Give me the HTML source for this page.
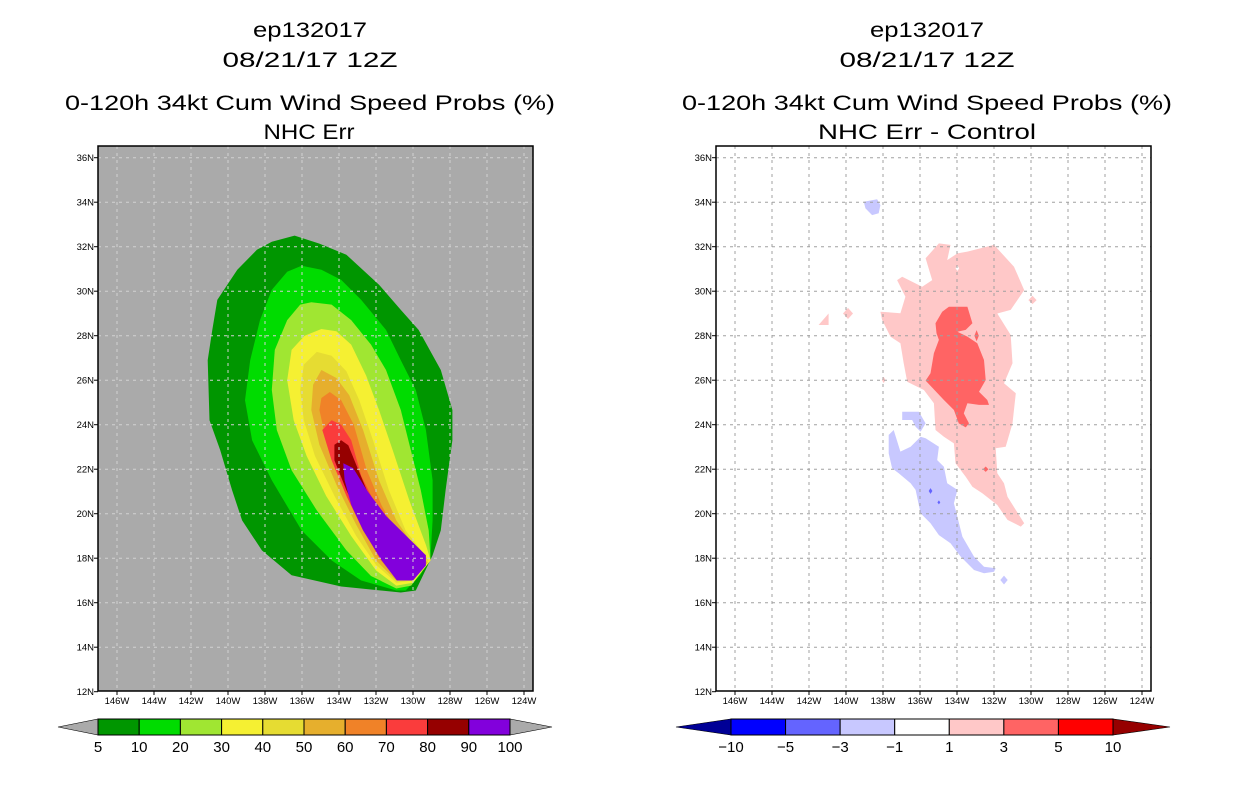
<!DOCTYPE html>
<html><head><meta charset="utf-8"><style>
html,body{margin:0;padding:0;background:#fff}
svg{display:block}
text{font-family:"Liberation Sans",sans-serif}
</style></head><body>
<svg id="root" width="1236" height="800" viewBox="0 0 1236 800">
<g>
<text x="310" y="37" font-size="21" text-anchor="middle" textLength="114" lengthAdjust="spacingAndGlyphs">ep132017</text>
<text x="310" y="67" font-size="21" text-anchor="middle" textLength="175" lengthAdjust="spacingAndGlyphs">08/21/17 12Z</text>
<text x="310" y="110" font-size="21" text-anchor="middle" textLength="490" lengthAdjust="spacingAndGlyphs">0-120h 34kt Cum Wind Speed Probs (%)</text>
<text x="309" y="139" font-size="21" text-anchor="middle" textLength="91" lengthAdjust="spacingAndGlyphs">NHC Err</text>
</g>
<g>
<text x="927" y="37" font-size="21" text-anchor="middle" textLength="114" lengthAdjust="spacingAndGlyphs">ep132017</text>
<text x="927" y="67" font-size="21" text-anchor="middle" textLength="175" lengthAdjust="spacingAndGlyphs">08/21/17 12Z</text>
<text x="927" y="110" font-size="21" text-anchor="middle" textLength="490" lengthAdjust="spacingAndGlyphs">0-120h 34kt Cum Wind Speed Probs (%)</text>
<text x="927" y="139" font-size="21" text-anchor="middle" textLength="218" lengthAdjust="spacingAndGlyphs">NHC Err - Control</text>
</g>
<g id="leftPanel"></g>
<g id="rightPanel"></g>
<g id="leftBar"></g>
<g id="rightBar"></g>
</svg>
<script>
// ---- data (lon in degrees W, lat in degrees N) ----
const latTicks=[12,14,16,18,20,22,24,26,28,30,32,34,36];
const lonTicks=[146,144,142,140,138,136,134,132,130,128,126,124];
const leftLevels=[5,10,20,30,40,50,60,70,80,90,100];
const leftColors=["#009600","#00dc00","#a0e632","#f5f032","#e6dc32","#e6af2d","#f08228","#fa3c3c","#960000","#8200dc"];
const c5=[[136.4,32.5],[135.06,32.14],[133.6,31.64],[131.84,30.29],[130.66,29.16],[129.7,28.26],[128.5,26.46],[127.87,24.66],[127.87,23.31],[128.24,21.05],[128.5,19.25],[128.94,18.13],[129.85,16.55],[130.66,16.46],[133.88,16.73],[136.56,17.23],[138.17,18.35],[139.24,19.7],[139.78,21.05],[140.42,22.86],[141.0,24.2],[141.1,26.9],[140.85,28.26],[140.58,29.61],[139.5,30.96],[138.44,31.86],[137.63,32.22]];
const c10=[[136.02,31.14],[134.95,30.96],[133.88,30.51],[132.8,29.61],[131.46,28.26],[130.66,26.9],[129.85,25.56],[129.3,23.76],[128.94,21.5],[128.94,19.7],[129.05,18.13],[129.6,17.23],[130.4,16.55],[130.9,16.55],[132.8,17.0],[134.4,17.9],[136.02,19.25],[137.63,21.5],[138.7,23.3],[139.08,25.1],[138.8,26.9],[138.27,28.7],[137.63,30.06],[136.8,30.87]];
const c20=[[135.5,29.5],[134.4,29.4],[133.34,28.7],[132.27,27.6],[131.46,26.46],[130.66,24.66],[130.12,22.86],[129.58,21.05],[129.15,19.25],[129.05,17.9],[130.1,16.77],[130.9,16.64],[132.27,17.2],[133.6,18.35],[135.2,20.15],[136.56,21.95],[137.36,23.76],[137.63,25.56],[137.47,27.36],[136.8,28.7],[136.1,29.4]];
const c30=[[134.95,28.3],[134.14,28.2],[133.34,27.6],[132.53,26.2],[131.84,24.66],[131.1,22.86],[130.2,20.6],[129.3,18.6],[129.05,17.9],[130.0,16.9],[130.9,16.77],[132.0,17.45],[133.34,19.0],[134.7,20.8],[135.75,22.6],[136.45,24.2],[136.8,26.0],[136.56,27.36],[135.86,28.0]];
const c40=[[135.2,27.27],[134.4,27.1],[133.6,26.4],[132.9,25.1],[132.16,23.3],[131.3,21.05],[130.4,19.25],[129.15,17.9],[130.0,17.0],[130.9,16.9],[132.0,17.7],[133.07,19.0],[134.25,20.8],[135.3,22.6],[135.9,24.2],[136.1,25.56],[135.9,26.7]];
const c50=[[134.95,26.46],[134.14,26.1],[133.45,25.33],[132.7,23.76],[131.84,21.5],[130.9,19.7],[129.6,18.13],[129.2,17.8],[130.1,17.1],[130.9,17.0],[132.0,17.9],[133.07,19.5],[134.14,21.3],[135.06,23.1],[135.5,24.66],[135.4,25.8]];
const c60=[[134.5,25.47],[133.88,25.1],[133.2,24.0],[132.5,21.95],[131.7,20.37],[130.66,18.8],[129.3,17.8],[130.1,17.2],[130.9,17.1],[131.84,18.0],[132.9,19.7],[133.88,21.5],[134.7,23.3],[135.06,24.66],[134.95,25.2]];
const c70=[[134.4,24.2],[133.88,24.0],[133.34,23.3],[132.8,21.7],[132.0,20.37],[130.9,19.0],[129.4,17.8],[130.2,17.2],[130.9,17.15],[131.7,17.9],[132.7,19.25],[133.6,20.8],[134.4,22.4],[134.9,23.76]];
const c80=[[133.88,23.3],[133.5,23.08],[133.07,22.2],[132.5,21.05],[131.7,19.9],[130.66,18.8],[129.5,17.9],[130.3,17.2],[130.9,17.2],[131.7,18.13],[132.8,19.7],[133.6,21.05],[134.25,22.4],[134.25,23.1]];
const c90=[[133.77,22.27],[133.23,22.05],[132.5,21.05],[131.46,19.9],[130.12,18.8],[129.3,18.13],[129.3,17.67],[130.0,17.0],[130.87,17.0],[131.7,17.9],[132.7,19.25],[133.34,20.4],[133.7,21.5]];
const leftContours=[c5,c10,c20,c30,c40,c50,c60,c70,c80,c90];

const rightLevels=[-10,-5,-3,-1,1,3,5,10];
const rightColors=["#000096","#0000ff","#6464ff","#c8c8ff","#ffffff","#ffc8c8","#ff6464","#ff0000","#960000"];
const pinkMain=[[134.98,32.15],[134.35,32.08],[134.53,31.40],[133.98,31.70],[133.44,31.78],[132.0,32.08],[130.92,31.10],[130.37,30.05],[131.1,29.16],[131.82,29.0],[131.1,28.03],[131.0,26.76],[131.46,25.86],[130.82,25.41],[131.0,24.06],[131.37,23.01],[131.91,22.94],[131.82,21.82],[131.46,21.37],[131.27,20.76],[130.37,19.57],[130.55,19.42],[131.27,19.72],[131.82,20.39],[132.63,20.92],[133.17,21.21],[133.53,21.66],[134.08,22.27],[134.17,23.16],[134.71,23.46],[135.16,23.76],[135.25,24.96],[135.79,25.56],[136.69,25.93],[136.88,26.76],[137.06,27.66],[137.6,27.96],[138.05,28.71],[138.14,29.08],[137.06,29.01],[136.79,29.75],[137.24,30.5],[136.96,30.65],[135.88,30.2],[135.34,30.5],[135.7,31.48]];
const pinkTri=[[140.94,29.0],[140.94,28.48],[141.48,28.48]];
const pinkDiamond=[[139.89,29.25],[139.62,29.0],[139.89,28.75],[140.16,29.0]];
const pinkDot=[[129.92,29.8],[129.7,29.6],[129.92,29.42],[130.14,29.6]];
const pinkSpeck=[[137.96,26.15],[137.86,26.01],[137.96,25.87],[138.06,26.01]];
const redMain=[[134.44,29.3],[133.44,29.3],[133.17,28.56],[133.53,28.26],[133.98,28.18],[133.44,27.96],[132.9,27.66],[132.54,26.91],[132.45,26.01],[132.81,25.48],[132.36,25.11],[132.27,24.89],[132.81,24.89],[133.44,24.96],[133.63,24.51],[133.35,24.06],[133.53,23.88],[133.9,24.06],[134.17,24.66],[134.71,25.11],[135.7,25.98],[135.43,26.31],[135.25,27.21],[134.98,27.81],[135.11,28.11],[135.16,28.56],[134.8,29.08]];
const redSpeck1=[[132.94,28.25],[132.82,28.0],[132.94,27.75],[133.06,28.0]];
const redSpeck2=[[132.45,22.12],[132.3,22.0],[132.45,21.88],[132.6,22.0]];
const blueMain=[[137.69,23.54],[137.42,23.76],[137.06,22.79],[136.51,23.01],[135.97,23.46],[135.7,23.39],[134.98,23.01],[135.07,22.41],[134.71,22.11],[134.53,21.37],[133.98,21.07],[134.17,20.47],[133.71,18.97],[133.08,18.07],[132.54,17.62],[131.91,17.55],[132.0,17.39],[132.54,17.32],[133.08,17.47],[133.8,18.07],[134.35,18.67],[134.98,19.04],[135.43,19.57],[135.97,20.02],[136.24,21.07],[136.51,21.37],[137.15,21.82],[137.51,22.04],[137.69,22.71]];
const blueSmall=[[136.96,24.58],[136.06,24.58],[135.7,24.06],[135.97,23.69],[136.24,23.91],[136.42,24.21],[136.96,24.21]];
const blueTop=[[139.04,34.02],[138.32,34.13],[138.14,33.87],[138.23,33.5],[138.59,33.42],[138.95,33.73]];
const blueDiamond=[[131.46,17.22],[131.26,17.02],[131.46,16.82],[131.66,17.02]];
const darkBlue1=[[135.43,21.15],[135.33,21.02],[135.43,20.89],[135.53,21.02]];
const darkBlue2=[[134.98,20.6],[134.9,20.51],[134.98,20.42],[135.06,20.51]];
const holeSpot=[[133.98,31.15],[133.88,31.03],[133.98,30.91],[134.08,31.03]];

// ---- drawing ----
const NS="http://www.w3.org/2000/svg";
function mk(tag,attrs,parent){const e=document.createElementNS(NS,tag);for(const k in attrs)e.setAttribute(k,attrs[k]);parent.appendChild(e);return e;}
function makeAxes(x0){
  return {
    x:lon=>x0+19+(146-lon)*18.5,
    y:lat=>691.7-(lat-12)*22.25,
    left:x0,right:x0+435,top:146,bottom:691
  };
}
function polyPts(ax,arr){return arr.map(p=>ax.x(p[0]).toFixed(1)+","+ax.y(p[1]).toFixed(1)).join(" ");}

function drawPanel(g,ax,bg,gridColor,fills){
  const r=mk("rect",{x:ax.left,y:ax.top,width:435,height:545,fill:bg},g);
  
  
  fills.forEach(f=>{
    const p=mk("polygon",{points:polyPts(ax,f.pts),fill:f.color},g);
    
    
  });
  latTicks.forEach(lat=>{
    const y=ax.y(lat);
    if(lat>12){
      const l=mk("line",{x1:ax.left,x2:ax.right,y1:y,y2:y,stroke:gridColor,"stroke-width":1,"stroke-dasharray":"3,4"},g);
      
      
    }
    mk("line",{x1:ax.left-4,x2:ax.left,y1:y,y2:y,stroke:"#000"},g);
    const t=mk("text",{x:ax.left-4,y:y+3.5,"font-size":9.5,"text-anchor":"end"},g);
    t.textContent=lat+"N";
    
    
  });
  lonTicks.forEach(lon=>{
    const x=ax.x(lon);
    const l=mk("line",{x1:x,x2:x,y1:ax.top,y2:ax.bottom,stroke:gridColor,"stroke-width":1,"stroke-dasharray":"3,4"},g);
    
    
    mk("line",{x1:x,x2:x,y1:ax.bottom,y2:ax.bottom+4,stroke:"#000"},g);
    const t=mk("text",{x:x,y:704,"font-size":9.5,"text-anchor":"middle"},g);
    t.textContent=lon+"W";
    
    
  });
  const fr=mk("rect",{x:ax.left,y:ax.top,width:435,height:545,fill:"none",stroke:"#000","stroke-width":1.5},g);
  
  
}

const axL=makeAxes(98), axR=makeAxes(716);
drawPanel(document.getElementById("leftPanel"),axL,"#aaaaaa","#d2d2d2",
  leftContours.map((c,i)=>({pts:c,color:leftColors[i],name:"contour-"+leftLevels[i]+"pct"})));
drawPanel(document.getElementById("rightPanel"),axR,"#ffffff","#a0a0a0",[
  {pts:pinkMain,color:rightColors[5],name:"diff-pos-1-3"},
  {pts:holeSpot,color:"#ffffff",name:"diff-hole"},
  {pts:pinkTri,color:rightColors[5],name:"diff-pos-small"},
  {pts:pinkDiamond,color:rightColors[5],name:"diff-pos-small"},
  {pts:pinkDot,color:rightColors[5],name:"diff-pos-small"},
  {pts:pinkSpeck,color:rightColors[5],name:"diff-pos-small"},
  {pts:redMain,color:rightColors[6],name:"diff-pos-3-5"},
  {pts:redSpeck1,color:rightColors[6],name:"diff-pos-3-5-small"},
  {pts:redSpeck2,color:rightColors[6],name:"diff-pos-3-5-small"},
  {pts:blueMain,color:rightColors[3],name:"diff-neg-1-3"},
  {pts:blueSmall,color:rightColors[3],name:"diff-neg-1-3-small"},
  {pts:blueTop,color:rightColors[3],name:"diff-neg-1-3-small"},
  {pts:blueDiamond,color:rightColors[3],name:"diff-neg-1-3-small"},
  {pts:darkBlue1,color:rightColors[2],name:"diff-neg-3-5-small"},
  {pts:darkBlue2,color:rightColors[2],name:"diff-neg-3-5-small"}
]);

// colorbars
function colorbar(g,x0,x1,triL,triR,colors,labels,triColors){
  const n=colors.length, w=(x1-x0)/n, y0=719, h=16;
  mk("polygon",{points:`${triL},${y0+h/2} ${x0},${y0} ${x0},${y0+h}`,fill:triColors[0],stroke:"#000","stroke-width":0.6},g);
  mk("polygon",{points:`${triR},${y0+h/2} ${x1},${y0} ${x1},${y0+h}`,fill:triColors[1],stroke:"#000","stroke-width":0.6},g);
  colors.forEach((c,i)=>{
    const r=mk("rect",{x:x0+i*w,y:y0,width:w,height:h,fill:c,stroke:"#000","stroke-width":1},g);
    
    
  });
  labels.forEach((lb,i)=>{
    const t=mk("text",{x:x0+i*w,y:752,"font-size":15,"text-anchor":"middle"},g);
    t.textContent=lb;
    
    
  });
}
colorbar(document.getElementById("leftBar"),98,510,58,552,leftColors,leftLevels.map(String),["#aaaaaa","#aaaaaa"]);
colorbar(document.getElementById("rightBar"),731,1113,676,1170,rightColors.slice(1,8),rightLevels.map(v=>v<0?"\u2212"+(-v):String(v)),[rightColors[0],rightColors[8]]);
</script>
</body></html>
